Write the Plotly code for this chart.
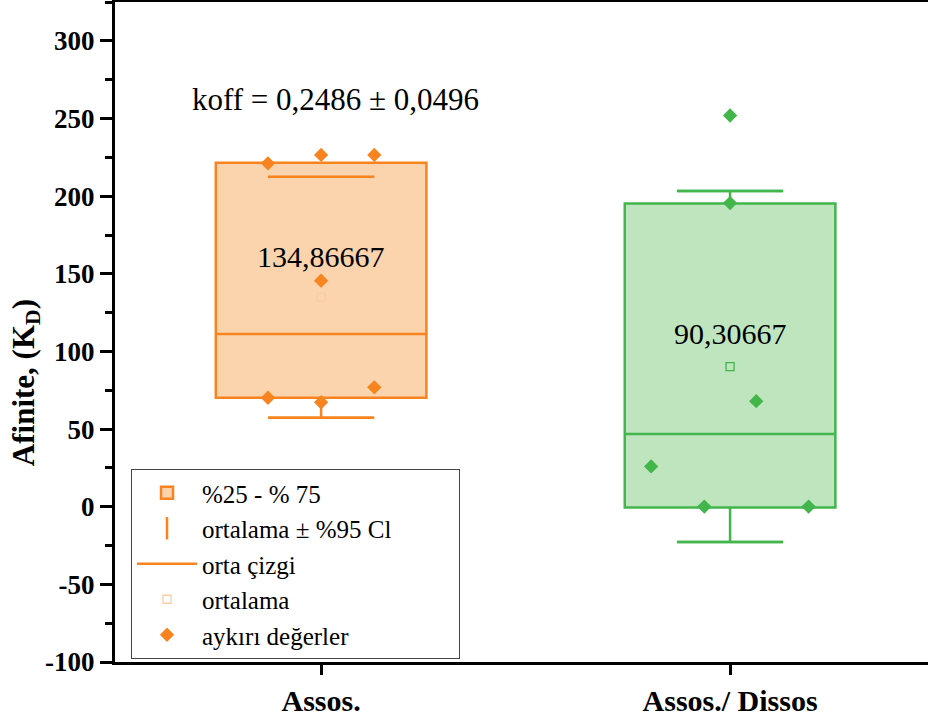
import plotly.graph_objects as go

# ---- data ----
categories = ["Assos.", "Assos./ Dissos"]
assos_points = [221.2, 226.6, 226.6, 145.6, 76.9, 70.2, 67.3]
dissos_points = [252.0, 195.6, 68.0, 26.0, 0.12, 0.12]
q1 = [70.2, -0.5]
median = [111.3, 46.8]
q3 = [221.5, 195.3]
means = [134.86667, 90.30667]
ci95 = [77.6, 113.0]
mean_labels = ["134,86667", "90,30667"]
koff_text = "koff = 0,2486 ± 0,0496"
legend_names = ["%25 - % 75", "ortalama ± %95 Cl", "orta çizgi", "ortalama", "aykırı değerler"]
y_tickvals = [-100, -50, 0, 50, 100, 150, 200, 250, 300]
y_ticktext = ["-100", "-50", "0", "50", "100", "150", "200", "250", "300"]

# point spreading offsets (layout only)
assos_offsets = [-0.13, 0.0, 0.13, 0.0, 0.13, -0.13, 0.0]
dissos_offsets = [0.0, 0.0, 0.064, -0.193, -0.063, 0.192]

# ---- styles ----
line_cols = ["#F7841E", "#42B54B"]
fill_cols = ["#FBD3AD", "#BFE5BF"]
mean_cols = ["#F9CDA6", "#42B54B"]
FONT = "Liberation Serif"
box_w = 0.515
cap_w = 0.26
PAD = "\u00a0" * 10  # widens the legend box like the reference

fig = go.Figure()
point_sets = [assos_points, dissos_points]
offset_sets = [assos_offsets, dissos_offsets]

for i, cat in enumerate(categories):
    pos = float(i)
    upper = means[i] + ci95[i]
    lower = means[i] - ci95[i]
    fig.add_trace(go.Box(
        x=[pos], q1=[q1[i]], median=[median[i]], q3=[q3[i]],
        lowerfence=[lower], upperfence=[upper],
        width=box_w, boxpoints=False,
        line=dict(color=line_cols[i], width=2.5),
        fillcolor=fill_cols[i],
        name=legend_names[0], showlegend=(i == 0), legendrank=1,
        hoverinfo="skip",
    ))
    # whisker caps
    fig.add_trace(go.Scatter(
        x=[pos - cap_w / 2, pos + cap_w / 2, None, pos - cap_w / 2, pos + cap_w / 2],
        y=[upper, upper, None, lower, lower],
        mode="lines", line=dict(color=line_cols[i], width=2.5),
        showlegend=False, hoverinfo="skip",
    ))
    # mean marker
    fig.add_trace(go.Scatter(
        x=[pos], y=[means[i]], mode="markers",
        marker=dict(symbol="square-open", size=8, color=mean_cols[i], line=dict(width=1.3)),
        name=legend_names[3], showlegend=(i == 0), legendrank=4,
    ))
    # data points
    fig.add_trace(go.Scatter(
        x=[pos + o for o in offset_sets[i]], y=point_sets[i], mode="markers",
        marker=dict(symbol="diamond", size=11, color=line_cols[i]),
        name=legend_names[4], showlegend=(i == 0), legendrank=5,
    ))
    fig.add_annotation(
        x=pos, y=[161.5, 111.9][i], text=mean_labels[i], showarrow=False,
        font=dict(family=FONT, size=30, color="black"),
    )

# legend-only entries
fig.add_trace(go.Scatter(
    x=[None], y=[None], mode="markers",
    marker=dict(symbol="line-ns", size=16, color=line_cols[0], line=dict(width=2.5, color=line_cols[0])),
    name=legend_names[1] + PAD, legendrank=2,
))
fig.add_trace(go.Scatter(
    x=[None], y=[None], mode="lines",
    line=dict(color=line_cols[0], width=2.5),
    name=legend_names[2], legendrank=3,
))

fig.add_annotation(
    x=0.034, y=262.6, text=koff_text, showarrow=False,
    font=dict(family=FONT, size=31, color="black"),
)
# y-axis title (placed like the reference, slightly below the axis centre)
fig.add_annotation(
    xref="paper", yref="paper", x=-0.1095, y=0.424, textangle=-90,
    xanchor="center", yanchor="middle",
    text="Afinite, (K<sub>D</sub>)", showarrow=False,
    font=dict(family=FONT, size=31, color="black", weight="bold"),
)

fig.update_layout(
    width=928, height=722,
    margin=dict(l=115, r=0, t=2, b=60),
    plot_bgcolor="white", paper_bgcolor="white",
    font=dict(family=FONT, color="black"),
    legend=dict(
        x=0.0197, y=0.2924, xanchor="left", yanchor="top",
        bgcolor="white", bordercolor="#444", borderwidth=1,
        font=dict(family=FONT, size=25, color="black"),
        itemwidth=60, tracegroupgap=0,
    ),
    showlegend=True,
)
fig.update_xaxes(
    range=[-0.504, 1.484], tickvals=[0, 1], ticktext=categories,
    showline=True, linecolor="black", linewidth=3, mirror=True,
    ticks="outside", ticklen=10, tickwidth=2.5, tickcolor="black",
    showgrid=False, zeroline=False,
    tickfont=dict(family=FONT, size=30, color="black", weight="bold"),
)
fig.update_yaxes(
    range=[-100, 325.1], tickvals=y_tickvals, ticktext=y_ticktext,
    showline=True, linecolor="black", linewidth=3,
    ticks="outside", ticklen=12, tickwidth=2.5, tickcolor="black",
    minor=dict(ticks="outside", ticklen=7, tickwidth=2.5, dtick=25, tick0=0, tickcolor="black", showgrid=False),
    showgrid=False, zeroline=False,
    tickfont=dict(family=FONT, size=27, color="black", weight="bold"),
)

fig.write_html("out.html")
